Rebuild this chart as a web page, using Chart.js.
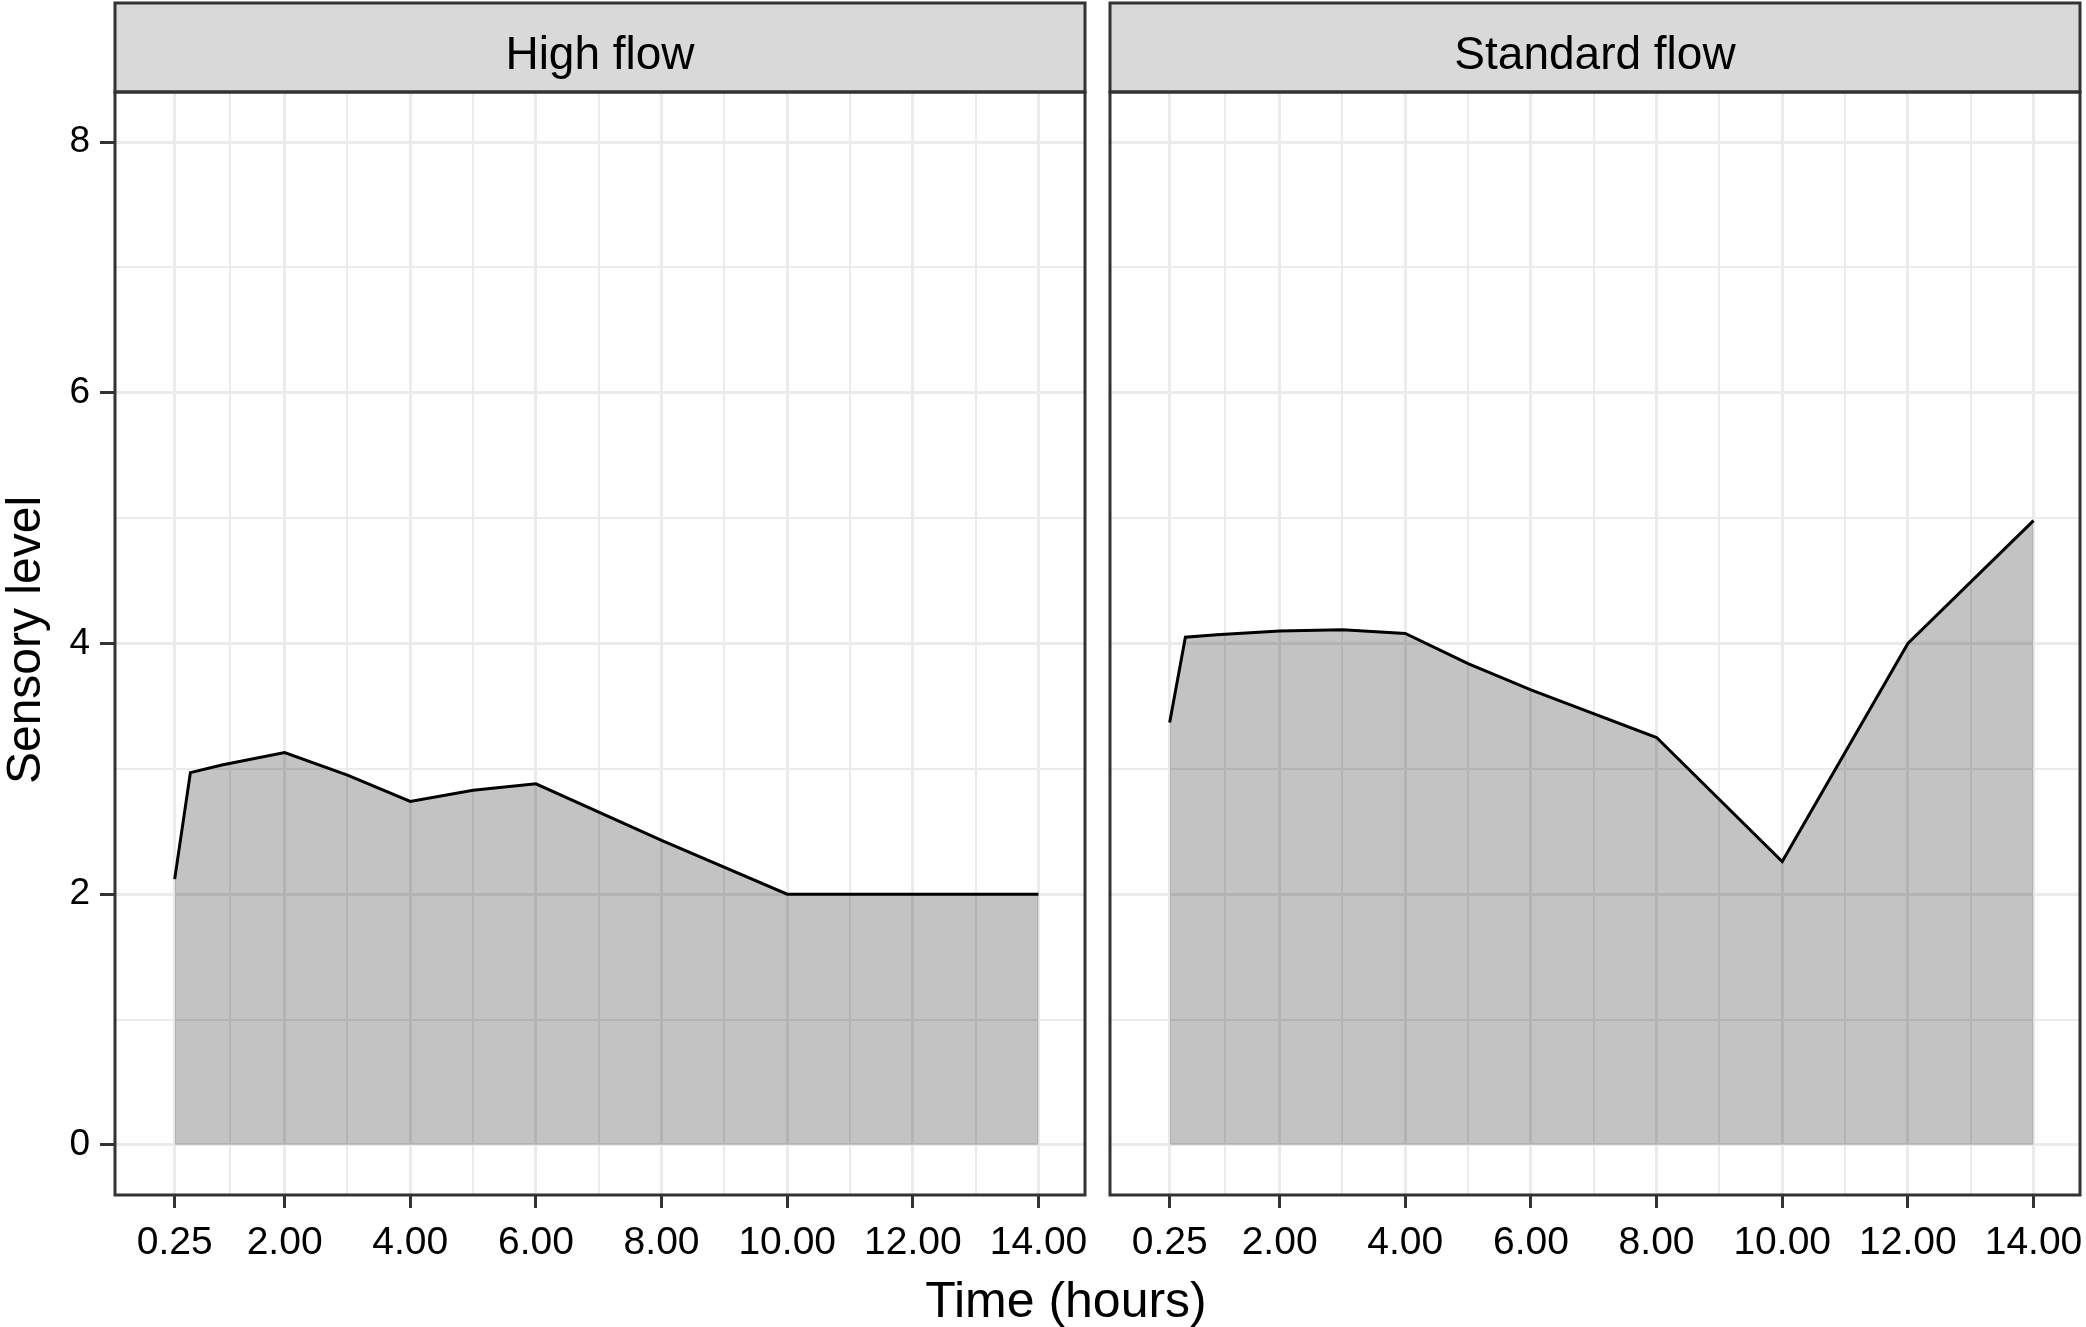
<!DOCTYPE html>
<html>
<head>
<meta charset="utf-8">
<script src="https://cdn.jsdelivr.net/npm/chart.js@4/dist/chart.umd.min.js"></script>
<style>
  body { margin: 0; background: #fff; }
  #wrap { position: relative; width: 2086px; height: 1327px; overflow: hidden; font-family: "Liberation Sans", Arial, sans-serif; }
  canvas { position: absolute; top: 0; }
  #chartA { left: 0; }
  #chartB { left: 1095px; }
  .axisTitle { position: absolute; color: #000; white-space: nowrap; text-align: center; }
  #xTitle { left: 766px; width: 600px; top: 1275px; font-size: 50px; line-height: 50px; }
  #yTitle { left: -176px; width: 400px; top: 616px; font-size: 48px; line-height: 48px; transform: rotate(-90deg); }
</style>
</head>
<body>
<div id="wrap">
  <canvas id="chartA" width="1095" height="1327"></canvas>
  <canvas id="chartB" width="991" height="1327"></canvas>
  <div id="xTitle" class="axisTitle">Time (hours)</div>
  <div id="yTitle" class="axisTitle">Sensory level</div>
</div>
<script>
// data
var panels = ['High flow', 'Standard flow'];
var times = [0.25, 0.5, 1, 2, 3, 4, 5, 6, 8, 10, 12, 14];
var highFlow = [2.12, 2.97, 3.03, 3.13, 2.95, 2.74, 2.83, 2.88, 2.43, 2.0, 2.0, 2.0];
var standardFlow = [3.37, 4.05, 4.07, 4.1, 4.11, 4.08, 3.84, 3.63, 3.25, 2.26, 4.0, 4.98];

// axis breaks (ggplot style: major + minor)
var xMajor = [0.25, 2, 4, 6, 8, 10, 12, 14];
var xMinor = [1.125, 3, 5, 7, 9, 11, 13];
var yMajor = [0, 2, 4, 6, 8];
var yMinor = [1, 3, 5, 7];

var gridCol = '#EBEBEB';
var darkCol = '#333333';

function toPoints(xs, ys) {
  return xs.map(function (x, i) { return { x: x, y: ys[i] }; });
}

// strip on top + full panel border
var stripPlugin = {
  id: 'strip',
  afterDraw: function (chart, args, opts) {
    var c = chart.ctx;
    var a = chart.chartArea;
    c.save();
    c.fillStyle = '#D9D9D9';
    c.fillRect(a.left, 3, a.right - a.left, a.top - 3);
    c.lineWidth = 3;
    c.strokeStyle = darkCol;
    c.strokeRect(a.left, 3, a.right - a.left, a.top - 3);
    c.strokeRect(a.left, a.top, a.right - a.left, a.bottom - a.top);
    c.fillStyle = '#000';
    c.font = '46px "Liberation Sans", Arial, sans-serif';
    c.textAlign = 'center';
    c.textBaseline = 'alphabetic';
    c.fillText(opts.label, (a.left + a.right) / 2, 69);
    c.restore();
  },
};

function makeChart(id, label, values, showY) {
  var ctx = document.getElementById(id);
  return new Chart(ctx, {
    type: 'line',
    data: {
      datasets: [
        {
          data: toPoints(times, values),
          borderColor: '#000',
          borderWidth: 3,
          backgroundColor: 'rgba(0,0,0,0.235)',
          fill: { value: 0 },
          pointRadius: 0,
          tension: 0,
        },
      ],
    },
    options: {
      responsive: false,
      animation: false,
      devicePixelRatio: 1,
      layout: { padding: { top: 92, right: showY ? 10 : 6 } },
      plugins: {
        legend: { display: false },
        tooltip: { enabled: false },
        strip: { label: label },
      },
      scales: {
        x: {
          type: 'linear',
          min: -0.7,
          max: 14.74,
          afterBuildTicks: function (s) {
            s.ticks = xMajor.concat(xMinor).sort(function (a, b) { return a - b; }).map(function (v) { return { value: v }; });
          },
          afterFit: function (s) { s.height = 132; s.paddingLeft = 0; s.paddingRight = 0; },
          border: { display: false },
          grid: {
            color: gridCol,
            lineWidth: function (c) { return xMajor.indexOf(c.tick.value) >= 0 ? 3 : 2; },
            tickColor: function (c) { return xMajor.indexOf(c.tick.value) >= 0 ? darkCol : 'rgba(0,0,0,0)'; },
            tickWidth: 3,
            tickLength: 13,
          },
          ticks: {
            autoSkip: false,
            maxRotation: 0,
            padding: 12,
            color: '#000',
            font: { family: '"Liberation Sans", Arial, sans-serif', size: 39 },
            callback: function (v) { return xMajor.indexOf(v) >= 0 ? v.toFixed(2) : ''; },
          },
        },
        y: {
          type: 'linear',
          min: -0.4,
          max: 8.4,
          afterBuildTicks: function (s) {
            s.ticks = yMajor.concat(yMinor).sort(function (a, b) { return a - b; }).map(function (v) { return { value: v }; });
          },
          afterFit: function (s) { s.width = showY ? 115 : 15; s.paddingTop = 0; s.paddingBottom = 0; },
          border: { display: false },
          grid: {
            color: gridCol,
            lineWidth: function (c) { return yMajor.indexOf(c.tick.value) >= 0 ? 3 : 2; },
            tickColor: function (c) { return showY && yMajor.indexOf(c.tick.value) >= 0 ? darkCol : 'rgba(0,0,0,0)'; },
            tickWidth: 3,
            tickLength: 15,
            drawTicks: showY,
          },
          ticks: {
            display: showY,
            autoSkip: false,
            padding: 10,
            color: '#000',
            font: { family: '"Liberation Sans", Arial, sans-serif', size: 37 },
            callback: function (v) { return yMajor.indexOf(v) >= 0 ? String(v) : ''; },
          },
        },
      },
    },
    plugins: [stripPlugin],
  });
}

var chartA = makeChart('chartA', panels[0], highFlow, true);
var chartB = makeChart('chartB', panels[1], standardFlow, false);
</script>
</body>
</html>
